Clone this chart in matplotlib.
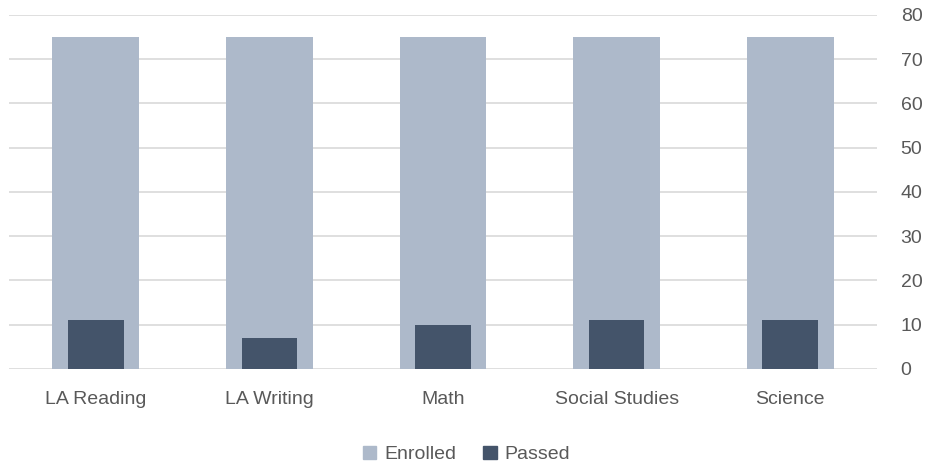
import numpy as np
import matplotlib.pyplot as plt
from matplotlib.patches import Patch

subjects = ['LA Reading', 'LA Writing', 'Math', 'Social Studies', 'Science']
enrolled = [75, 75, 75, 75, 75]
passed = [11, 7, 10, 11, 11]

enrolled_color = '#ADB9CA'
passed_color = '#44546A'
text_color = '#595959'

plt.rcParams['font.family'] = ['Liberation Sans', 'DejaVu Sans']

fig = plt.figure(figsize=(9.33, 4.71), dpi=100)
ax = fig.add_axes([0.0096, 0.2166, 0.9304, 0.7516])

x = np.arange(len(subjects))
ax.bar(x, enrolled, width=0.5, color=enrolled_color, zorder=2)
ax.bar(x, passed, width=0.32, color=passed_color, zorder=3)

ax.set_xlim(-0.5, len(subjects) - 0.5)
ax.set_ylim(0, 80)
ax.set_yticks(range(0, 81, 10))
ax.yaxis.tick_right()
ax.tick_params(axis='y', length=0, pad=17, labelsize=14, labelcolor=text_color)
ax.set_xticks(x)
ax.set_xticklabels(subjects)
ax.tick_params(axis='x', length=0, pad=16, labelsize=14, labelcolor=text_color)

ax.grid(axis='y', color='#D9D9D9', linewidth=1.2, zorder=0)
for s in ax.spines.values():
    s.set_visible(False)

handles = [Patch(color=enrolled_color, label='Enrolled'),
           Patch(color=passed_color, label='Passed')]
fig.legend(handles=handles, loc='center', bbox_to_anchor=(0.5, 0.035), ncol=2,
           frameon=False, fontsize=14, handlelength=0.7, handleheight=0.7,
           handletextpad=0.4, columnspacing=1.4, labelcolor=text_color)

fig.savefig('out.png', dpi=100)
